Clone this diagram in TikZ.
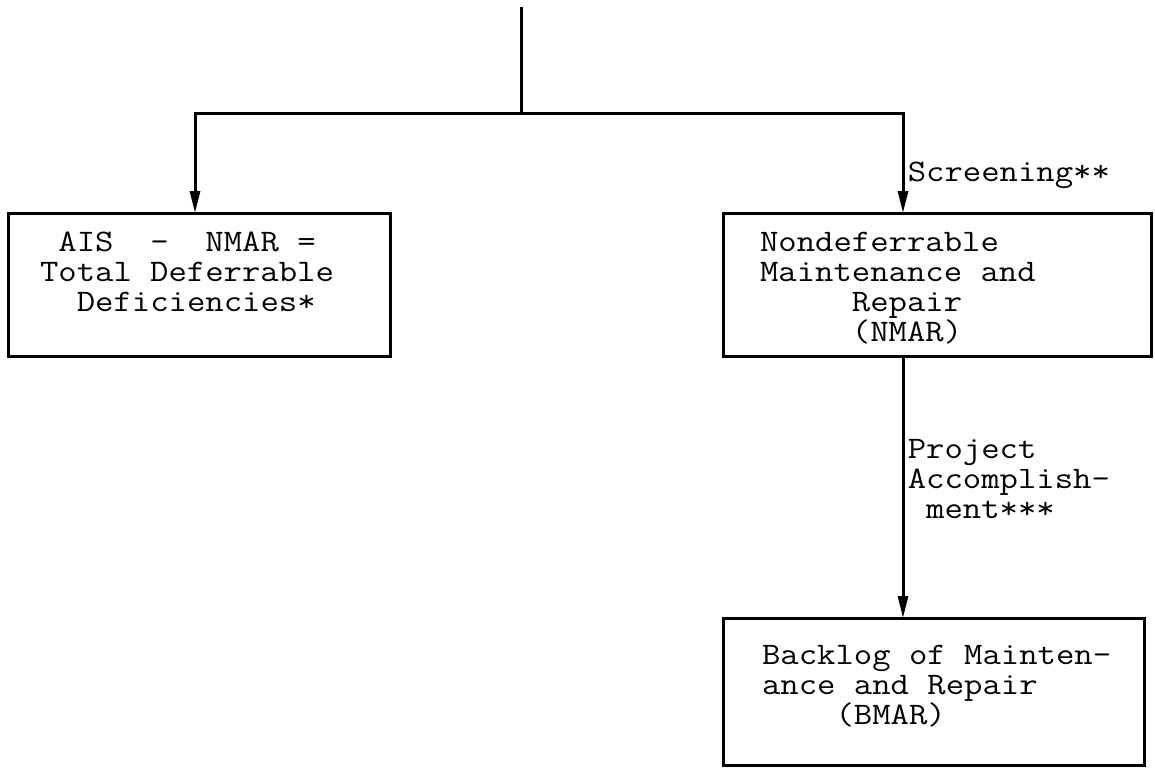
\documentclass[tikz,border=0pt]{standalone}
\usepackage{fontspec}
\setmonofont{Latin Modern Mono}[FakeStretch=1.14]
\usepackage{tikz}
\usetikzlibrary{positioning,arrows.meta,calc}
\newlength{\cw}
\newcommand{\typesp}[1]{\hspace*{#1\cw}}
\newcommand{\fixsp}{\spaceskip=\cw\xspaceskip=\cw\relax}

\begin{document}
\begin{tikzpicture}[x=1pt,y=-1pt,
      font={\ttfamily\fontsize{31.3}{30}\selectfont\settowidth{\cw}{x}},
      execute at begin node=\fixsp,
      block/.style={draw,line width=3pt,outer sep=0pt,anchor=north west,align=left,inner ysep=0pt,text height=38pt},
      flow/.style={line width=3pt,-{Triangle[width=10pt,length=22pt]}}]
    \useasboundingbox (0,0) rectangle (1155,768);

    % boxes
    \node[block,inner xsep=32pt,text width=318pt,text depth=105pt] (ais) at (8,213)
      {\typesp{1}AIS\typesp{2}-\typesp{2}NMAR =\\Total Deferrable\\\typesp{2}Deficiencies*};
    \node[block,inner xsep=37pt,text width=354pt,text depth=105pt] (nmar) at (723,213)
      {Nondeferrable\\Maintenance and\\\typesp{5}Repair\\\typesp{5}(NMAR)};
    \node[block,inner xsep=39pt,text width=343pt,text height=46pt,text depth=101pt] (bmar) at (723,618)
      {\mbox{Backlog of Mainten-}\\ance and Repair\\\typesp{4}(BMAR)};

    % connectors
    \coordinate (src) at (521,7);
    \coordinate (split) at (521,113);
    \draw[line width=3pt] (src) -- (split);
    \draw[flow] (split) -| ([xshift=187pt]ais.north west);
    \draw[flow] (split) -| ([xshift=180pt]nmar.north west)
      node[pos=0.81,right] {Screening**};
    \draw[flow] ([xshift=180pt]nmar.south west) -- ([xshift=180pt]bmar.north west)
      node[pos=0.47,right,align=left] {Project\\Accomplish-\\\typesp{1}ment***};
\end{tikzpicture}
\end{document}
